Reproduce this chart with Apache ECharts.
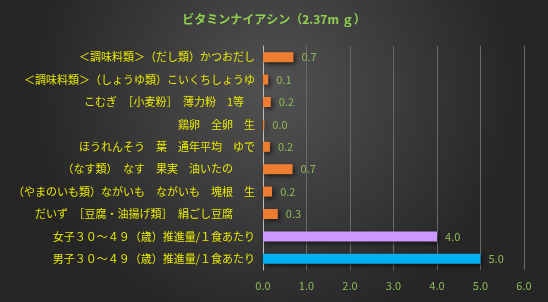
<!DOCTYPE html>
<html><head><meta charset="utf-8">
<script src="https://cdn.jsdelivr.net/npm/echarts@6/dist/echarts.min.js"></script>
<style>html,body{margin:0;padding:0;background:#333}#c{width:548px;height:302px}</style>
</head><body><div id="c"></div>
<script>
const titleText = 'ビタミンナイアシン（2.37m ｇ）';
const categories = [
  '＜調味料類＞（だし類）かつおだし',
  '＜調味料類＞（しょうゆ類）こいくちしょうゆ',
  'こむぎ　［小麦粉］　薄力粉　1等　',
  '鶏卵　全卵　生',
  'ほうれんそう　葉　通年平均　ゆで',
  '（なす類）　なす　果実　油いたの　　',
  '（やまのいも類）ながいも　ながいも　塊根　生',
  'だいず　［豆腐・油揚げ類］　絹ごし豆腐　　',
  '女子３０～４９（歳）推進量/１食あたり',
  '男子３０～４９（歳）推進量/１食あたり'
];
const values = [0.7, 0.12, 0.18, 0.03, 0.16, 0.68, 0.21, 0.34, 4.0, 5.0];
const barColors = ['#ED7D31','#ED7D31','#ED7D31','#ED7D31','#ED7D31','#ED7D31','#ED7D31','#ED7D31','#CC99FF','#00B0F0'];
const xTicks = [0, 1, 2, 3, 4, 5, 6];

const font = '"Noto Sans CJK JP", "Noto Sans", sans-serif';
const chart = echarts.init(document.getElementById('c'));
chart.setOption({
  backgroundColor: {
    type: 'radial', x: 0.5, y: 0.3, r: 0.8,
    colorStops: [{offset: 0, color: '#525252'}, {offset: 1, color: '#262626'}]
  },
  title: {
    text: titleText, left: 'center', top: 8,
    textStyle: {color: '#92D050', fontSize: 12, fontWeight: 'bold', fontFamily: font}
  },
  grid: {left: 263, right: 24, top: 46, bottom: 32, containLabel: false},
  xAxis: {
    type: 'value', min: xTicks[0], max: xTicks[xTicks.length - 1], interval: 1,
    axisLine: {show: false}, axisTick: {show: false},
    splitLine: {show: true, lineStyle: {color: '#6a6a6a', width: 1}},
    axisLabel: {color: '#8FBC5A', fontSize: 11, fontFamily: font, margin: 10,
      formatter: v => v.toFixed(1)}
  },
  yAxis: {
    type: 'category', data: categories, inverse: true,
    axisLine: {show: true, lineStyle: {color: '#bfbfbf', width: 1}},
    axisTick: {show: false},
    axisLabel: {color: '#E8E800', fontSize: 11, fontFamily: font, margin: 8}
  },
  series: [{
    type: 'bar', barWidth: 10,
    data: values.map((v, i) => ({value: v, itemStyle: {color: barColors[i]}})),
    itemStyle: {shadowColor: 'rgba(0,0,0,0.6)', shadowBlur: 4, shadowOffsetX: 2, shadowOffsetY: 2},
    label: {show: true, position: 'right', distance: 8, color: '#8FBC5A', fontSize: 11, fontFamily: font,
      formatter: p => p.value.toFixed(1)}
  }]
});
</script></body></html>
